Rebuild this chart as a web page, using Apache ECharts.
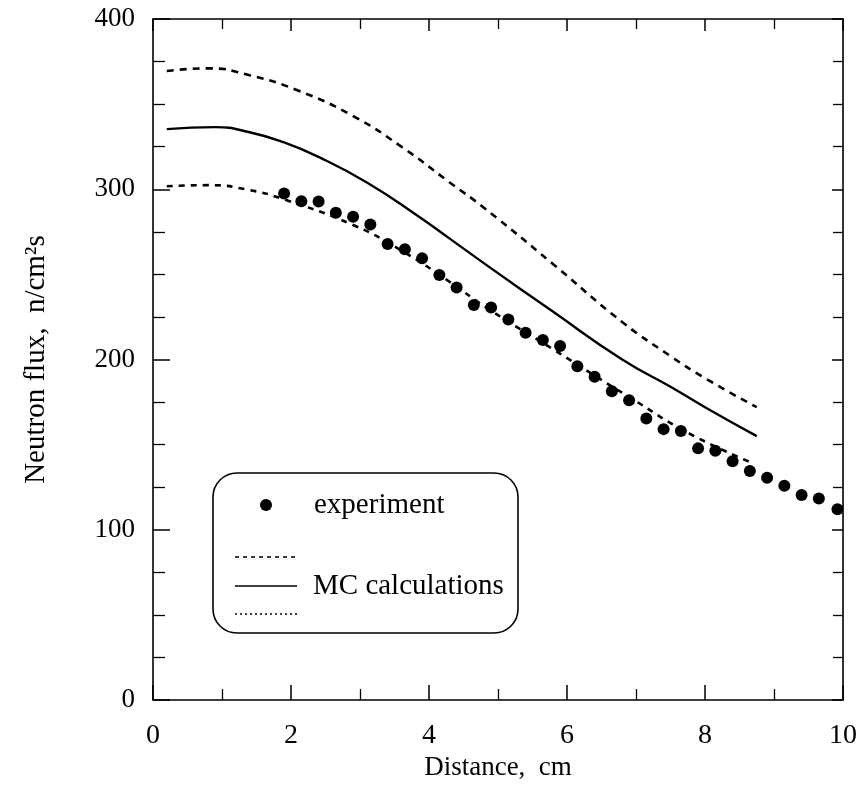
<!DOCTYPE html>
<html>
<head>
<meta charset="utf-8">
<script src="https://cdn.jsdelivr.net/npm/echarts@6/dist/echarts.min.js"></script>
<style>html,body{margin:0;padding:0;background:#fff}#c{width:862px;height:788px}</style>
</head>
<body>
<div id="c"></div>
<script>
// Experiment points
var expX = [1.9, 2.15, 2.4, 2.65, 2.9, 3.15, 3.4, 3.65, 3.9, 4.15, 4.4, 4.65, 4.9, 5.15, 5.4, 5.65, 5.9, 6.15, 6.4, 6.65, 6.9, 7.15, 7.4, 7.65, 7.9, 8.15, 8.4, 8.65, 8.9, 9.15, 9.4, 9.65, 9.92];
var expY = [297.5, 293, 292.8, 286.2, 283.8, 279.3, 267.8, 264.8, 259.4, 249.6, 242.3, 232, 230.6, 223.5, 215.7, 211.4, 207.9, 196.1, 189.8, 181.4, 176, 165.4, 159.1, 158, 147.8, 146.4, 140.3, 134.5, 130.5, 125.8, 120.4, 118.4, 112];
// MC upper (dashed)
var upX = [0.2, 0.8, 1.4, 2.1, 2.9, 3.6, 4.3, 4.8, 5.8, 6.8, 7.5, 8.0, 8.75];
var upY = [369.5, 371, 367, 358, 343, 325, 304, 289, 256, 222, 202, 189, 172];
// MC central (solid)
var midX = [0.2, 0.9, 1.4, 1.9, 2.4, 3.1, 3.85, 4.3, 4.85, 5.8, 6.8, 7.5, 8.0, 8.75];
var midY = [335.3, 336.5, 333.5, 327.5, 319, 304, 284, 271, 255, 228, 200, 184, 172, 155];
// MC lower (dashed)
var loX = [0.2, 0.8, 1.4, 1.9, 2.9, 3.6, 4.25, 4.85, 5.8, 6.5, 6.9, 7.75, 8.7];
var loY = [301.8, 302.4, 299.5, 294, 279, 264, 247, 230, 206, 188, 178, 157, 139];
// Axis ticks
var xTicks = [0, 2, 4, 6, 8, 10];
var yTicks = [0, 100, 200, 300, 400];

function pairs(xs, ys) { return xs.map(function (x, i) { return [x, ys[i]]; }); }

var FONT = 'Liberation Serif';
var chart = echarts.init(document.getElementById('c'));
function axisBase(tickLen, minorLen, split) {
  return {
    type: 'value',
    axisLine: { show: true, onZero: false, lineStyle: { color: '#000', width: 1.6 } },
    axisTick: { show: true, inside: true, length: tickLen, lineStyle: { color: '#000', width: 1.5 } },
    minorTick: { show: true, splitNumber: split, length: minorLen, lineStyle: { color: '#000', width: 1.3 } },
    splitLine: { show: false }
  };
}
chart.setOption({
  backgroundColor: '#fff',
  animation: false,
  grid: { left: 153, right: 19, top: 19, bottom: 88 },
  xAxis: [
    Object.assign(axisBase(15, 11, 2), {
      position: 'bottom',
      min: xTicks[0], max: xTicks[xTicks.length - 1], interval: 2,
      name: 'Distance,  cm', nameLocation: 'middle', nameGap: 48,
      nameTextStyle: { fontFamily: FONT, fontSize: 27, color: '#000' },
      axisLabel: { margin: 22, fontFamily: FONT, fontSize: 28, color: '#000' }
    }),
    Object.assign(axisBase(12, 10, 2), {
      position: 'top', min: xTicks[0], max: xTicks[xTicks.length - 1], interval: 2,
      axisLabel: { show: false }
    })
  ],
  yAxis: [
    Object.assign(axisBase(17, 12, 4), {
      position: 'left',
      min: yTicks[0], max: yTicks[yTicks.length - 1], interval: 100,
      name: 'Neutron flux,  n/cm\u00b2s', nameLocation: 'middle', nameGap: 102,
      nameTextStyle: { fontFamily: FONT, fontSize: 29, color: '#000' },
      axisLabel: { margin: 18, fontFamily: FONT, fontSize: 27, color: '#000' }
    }),
    Object.assign(axisBase(11, 10, 4), {
      position: 'right', min: yTicks[0], max: yTicks[yTicks.length - 1], interval: 100,
      axisLabel: { show: false }
    })
  ],
  series: [
    { type: 'line', data: pairs(upX, upY), smooth: 0.5, showSymbol: false,
      lineStyle: { color: '#000', width: 2.6, type: [7, 6] } },
    { type: 'line', data: pairs(midX, midY), smooth: 0.5, showSymbol: false,
      lineStyle: { color: '#000', width: 2.4, type: 'solid' } },
    { type: 'line', data: pairs(loX, loY), smooth: 0.5, showSymbol: false,
      lineStyle: { color: '#000', width: 2.6, type: [6, 6] } },
    { type: 'scatter', data: pairs(expX, expY), symbol: 'circle', symbolSize: 12,
      itemStyle: { color: '#000', opacity: 1 }, z: 5 }
  ],
  graphic: [
    { type: 'rect', shape: { x: 213, y: 473, width: 305, height: 160, r: 24 },
      style: { fill: '#fff', stroke: '#000', lineWidth: 1.6 }, z: 10 },
    { type: 'circle', shape: { cx: 266, cy: 505, r: 6 }, style: { fill: '#000' }, z: 11 },
    { type: 'text', x: 314, y: 505, style: { text: 'experiment', fontFamily: FONT, fontSize: 29,
      fill: '#000', verticalAlign: 'middle' }, z: 11 },
    { type: 'line', shape: { x1: 235, y1: 557, x2: 297, y2: 557 },
      style: { stroke: '#000', lineWidth: 1.6, lineDash: [4, 4] }, z: 11 },
    { type: 'line', shape: { x1: 235, y1: 586, x2: 297, y2: 586 },
      style: { stroke: '#000', lineWidth: 1.6 }, z: 11 },
    { type: 'line', shape: { x1: 235, y1: 614, x2: 297, y2: 614 },
      style: { stroke: '#000', lineWidth: 1.3, lineDash: [2, 3] }, z: 11 },
    { type: 'text', x: 313, y: 586, style: { text: 'MC calculations', fontFamily: FONT, fontSize: 29,
      fill: '#000', verticalAlign: 'middle' }, z: 11 }
  ]
});
</script>
</body>
</html>
